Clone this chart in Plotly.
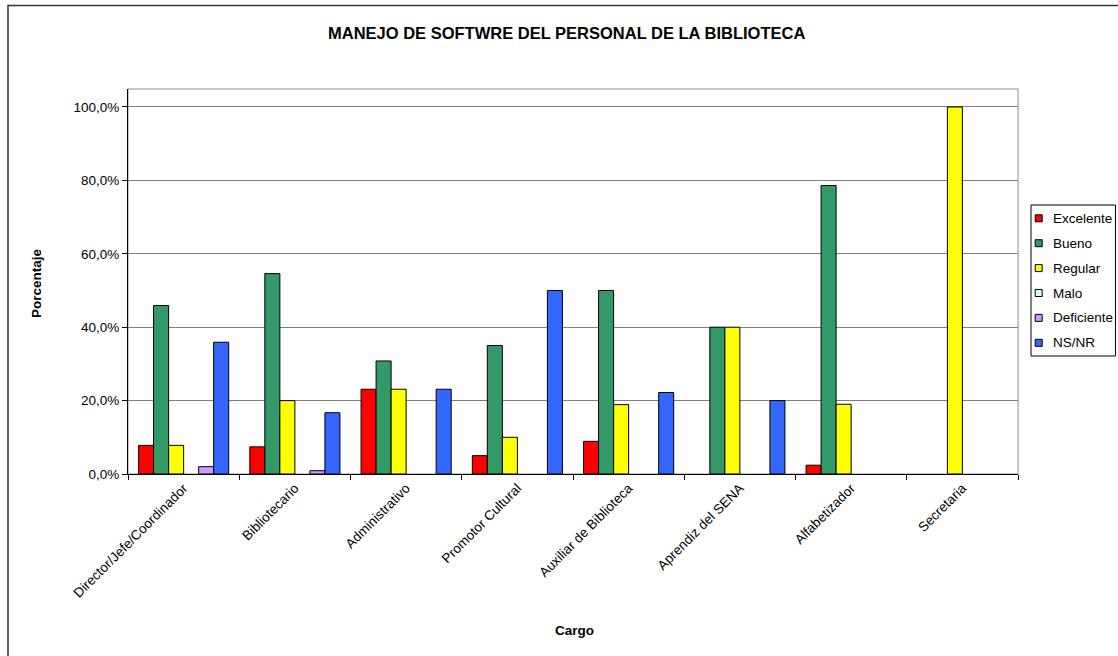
import plotly.graph_objects as go

categories = ["Director/Jefe/Coordinador", "Bibliotecario", "Administrativo",
              "Promotor Cultural", "Auxiliar de Biblioteca", "Aprendiz del SENA",
              "Alfabetizador", "Secretaria"]

excelente = [0.078, 0.074, 0.231, 0.050, 0.089, 0.0, 0.024, 0.0]
bueno = [0.459, 0.546, 0.308, 0.350, 0.500, 0.400, 0.786, 0.0]
regular = [0.078, 0.200, 0.231, 0.100, 0.189, 0.400, 0.190, 1.000]
malo = [0.0, 0.0, 0.0, 0.0, 0.0, 0.0, 0.0, 0.0]
deficiente = [0.020, 0.009, 0.0, 0.0, 0.0, 0.0, 0.0, 0.0]
nsnr = [0.359, 0.167, 0.231, 0.500, 0.222, 0.200, 0.0, 0.0]

series_names = ["Excelente", "Bueno", "Regular", "Malo", "Deficiente", "NS/NR"]
series_values = [excelente, bueno, regular, malo, deficiente, nsnr]
series_colors = ["#FF0000", "#339966", "#FFFF00", "#CCFFFF", "#CC99FF", "#3366FF"]

title_text = "MANEJO DE SOFTWRE DEL PERSONAL DE LA BIBLIOTECA"
y_title = "Porcentaje"
x_title = "Cargo"
y_ticks = [0, 0.2, 0.4, 0.6, 0.8, 1.0]

FONT = "Liberation Sans, Arial, sans-serif"

fig = go.Figure()
for name, vals, col in zip(series_names, series_values, series_colors):
    # zero-height bars are not drawn (avoid outline artefacts on the baseline)
    shown = [v if v > 0 else None for v in vals]
    fig.add_trace(go.Bar(
        name=name, x=categories, y=shown, showlegend=False,
        marker=dict(color=col, line=dict(color="#000000", width=1)),
    ))

W, H = 1118, 656
L, R, T, B = 128, 100, 89, 182
pw = W - L - R
ph = H - T - B

def px_x(x):  # window pixel -> paper x
    return (x - L) / pw

def px_y(y):  # window pixel -> paper y
    return (H - B - y) / ph

shapes = [
    dict(type="rect", xref="paper", yref="paper", x0=0, x1=1, y0=0, y1=1,
         line=dict(color="#8c8c8c", width=1), layer="below"),
    dict(type="rect", xref="paper", yref="paper",
         x0=px_x(8), x1=px_x(1130), y0=px_y(670), y1=px_y(5.5),
         line=dict(color="#333333", width=1.5), layer="below"),
    # legend box
    dict(type="rect", xref="paper", yref="paper",
         x0=px_x(1031), x1=px_x(1115.5), y0=px_y(356), y1=px_y(205),
         line=dict(color="#000000", width=1), fillcolor="white", layer="above"),
]
annotations = [
    dict(text="<b>" + title_text + "</b>", xref="paper", yref="paper",
         x=px_x(566), y=px_y(33), xanchor="center", yanchor="middle",
         showarrow=False, font=dict(family=FONT, size=16.5)),
    dict(text="<b>" + y_title + "</b>", xref="paper", yref="paper",
         x=px_x(36), y=px_y(283), xanchor="center", yanchor="middle",
         showarrow=False, textangle=-90, font=dict(family=FONT, size=13.5)),
    dict(text="<b>" + x_title + "</b>", xref="paper", yref="paper",
         x=px_x(574), y=px_y(630), xanchor="center", yanchor="middle",
         showarrow=False, font=dict(family=FONT, size=13.5)),
]

# legend entries
for i, (name, col) in enumerate(zip(series_names, series_colors)):
    cy = 218.3 + i * 24.9
    shapes.append(dict(type="rect", xref="paper", yref="paper",
                       x0=px_x(1035.2), x1=px_x(1042.2),
                       y0=px_y(cy + 3.5), y1=px_y(cy - 3.5),
                       fillcolor=col, line=dict(color="#000000", width=1),
                       layer="above"))
    annotations.append(dict(text=name, xref="paper", yref="paper",
                            x=px_x(1050.5), y=px_y(cy), xanchor="left",
                            yanchor="middle", showarrow=False,
                            font=dict(family=FONT, size=13.5)))

fig.update_layout(
    width=W, height=H,
    margin=dict(l=L, r=R, t=T, b=B, pad=0),
    paper_bgcolor="white", plot_bgcolor="white",
    barmode="group", bargap=0.19, bargroupgap=0,
    separators=",.",
    font=dict(family=FONT, size=13, color="#000000"),
    showlegend=False,
    xaxis=dict(
        type="category", categoryorder="array", categoryarray=categories,
        tickangle=-45, tickson="boundaries",
        ticks="outside", ticklen=5, tickcolor="#000000",
        showline=True, linecolor="#000000", linewidth=1,
        showgrid=False, tickfont=dict(family=FONT, size=13.5),
    ),
    yaxis=dict(
        range=[0, 1.049], tickvals=y_ticks, tickformat=".1%",
        ticks="outside", ticklen=5, tickcolor="#000000",
        showline=True, linecolor="#000000", linewidth=1,
        showgrid=True, gridcolor="#7f7f7f", gridwidth=1,
        zeroline=False, tickfont=dict(family=FONT, size=13.5),
    ),
    shapes=shapes,
    annotations=annotations,
)

# place the figure at the window's top-left corner (no default page margin)
fig.write_html(
    "out.html",
    config={"displayModeBar": False},
    post_script="document.body.style.margin='0';document.body.style.overflow='hidden';",
)
